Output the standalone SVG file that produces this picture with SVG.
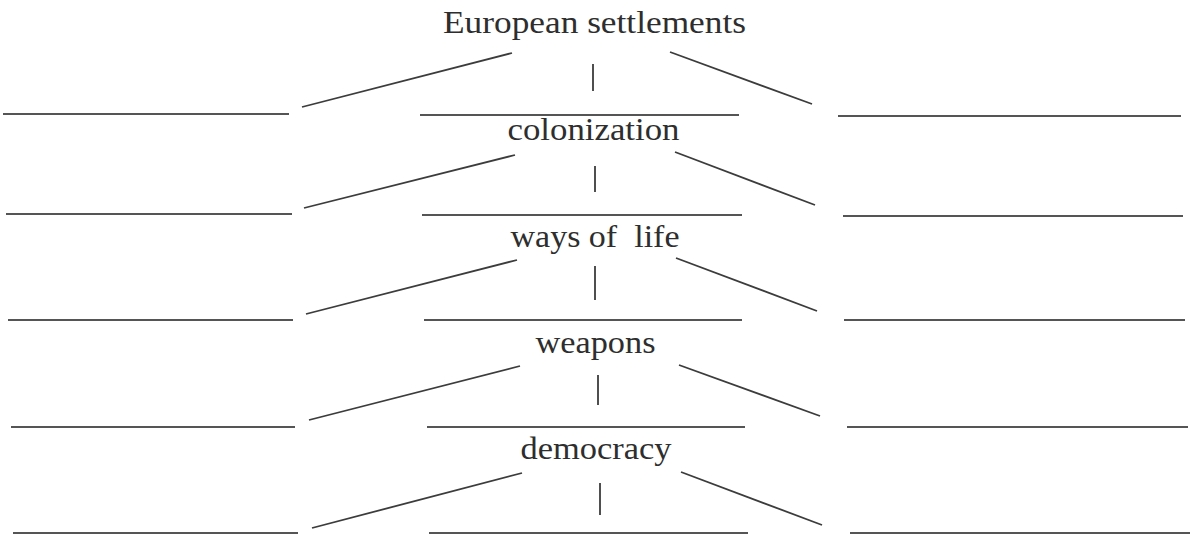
<svg xmlns="http://www.w3.org/2000/svg" width="1190" height="537" viewBox="0 0 1190 537">
<style>
  .t { font-family: "Liberation Serif", "Times New Roman", serif; font-size: 32px; fill: #2e2e2e; text-anchor: middle; }
  .c line { stroke: #3c3c3c; stroke-width: 1.8; stroke-linecap: butt; }
  .b line { stroke: #555; stroke-width: 1.8; }
</style>
<rect width="1190" height="537" fill="#ffffff"/>
<g id="node-european">
  <text class="t" x="594.5" y="33" textLength="303" lengthAdjust="spacingAndGlyphs">European settlements</text>
</g>
<g id="node-colonization">
  <text class="t" x="593.5" y="140" textLength="172" lengthAdjust="spacingAndGlyphs">colonization</text>
</g>
<g id="node-ways">
  <text class="t" x="595" y="247" textLength="169" lengthAdjust="spacingAndGlyphs" xml:space="preserve">ways of  life</text>
</g>
<g id="node-weapons">
  <text class="t" x="595.5" y="353" textLength="120" lengthAdjust="spacingAndGlyphs">weapons</text>
</g>
<g id="node-democracy">
  <text class="t" x="596" y="459" textLength="151" lengthAdjust="spacingAndGlyphs">democracy</text>
</g>
<g id="blanks" class="b">
  <line x1="3" y1="114" x2="289" y2="114"/>
  <line x1="420" y1="115" x2="739" y2="115"/>
  <line x1="838" y1="116" x2="1181" y2="116"/>
  <line x1="6" y1="214" x2="292" y2="214"/>
  <line x1="422" y1="215" x2="742" y2="215"/>
  <line x1="843" y1="216" x2="1183" y2="216"/>
  <line x1="8" y1="320" x2="293" y2="320"/>
  <line x1="424" y1="320" x2="742" y2="320"/>
  <line x1="844" y1="320" x2="1185" y2="320"/>
  <line x1="11" y1="427" x2="295" y2="427"/>
  <line x1="427" y1="427" x2="745" y2="427"/>
  <line x1="847" y1="427" x2="1188" y2="427"/>
  <line x1="13" y1="533" x2="298" y2="533"/>
  <line x1="429" y1="533" x2="748" y2="533"/>
  <line x1="850" y1="533" x2="1190" y2="533"/>
</g>
<g id="connectors" class="c">
  <line x1="512" y1="53" x2="302" y2="107"/>
  <line x1="593" y1="64" x2="593" y2="91"/>
  <line x1="670" y1="52" x2="812" y2="104"/>
  <line x1="515" y1="155" x2="304" y2="208"/>
  <line x1="595" y1="166" x2="595" y2="192"/>
  <line x1="675" y1="152" x2="815" y2="205"/>
  <line x1="517" y1="260" x2="306" y2="314"/>
  <line x1="595" y1="266" x2="595" y2="300"/>
  <line x1="676" y1="258" x2="817" y2="311"/>
  <line x1="520" y1="366" x2="309" y2="420"/>
  <line x1="598" y1="375" x2="598" y2="405"/>
  <line x1="679" y1="365" x2="820" y2="416"/>
  <line x1="522" y1="473" x2="312" y2="528"/>
  <line x1="600" y1="483" x2="600" y2="515"/>
  <line x1="681" y1="472" x2="822" y2="525"/>
</g>
</svg>
